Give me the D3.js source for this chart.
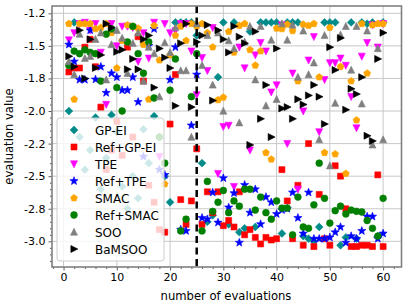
<!DOCTYPE html>
<html>
<head>
<meta charset="utf-8">
<script src="https://cdn.jsdelivr.net/npm/d3@7"></script>
<style>
  body { margin: 0; background: #fff; }
  text { font-family: "DejaVu Sans", sans-serif; fill: #000; }
</style>
</head>
<body>
<div id="chart"></div>
<script>
// evaluation index (x)
var evaluations = [1,2,3,4,5,6,7,8,9,10,11,12,13,14,15,16,17,18,19,20,
  21,22,23,24,25,26,27,28,29,30,31,32,33,34,35,36,37,38,39,40,
  41,42,43,44,45,46,47,48,49,50,51,52,53,54,55,56,57,58,59,60];

// values, one per evaluation
var gpEI = [-2.00,-1.32,-2.20,-2.45,-2.30,-2.05,-2.60,-2.36,-2.03,-2.16,
  -2.58,-2.75,-2.50,-2.67,-2.14,-2.40,-2.04,-2.20,-2.50,-2.70,
  -1.32,-1.32,-1.32,-1.32,-1.42,-2.40,-2.85,-2.80,-1.74,-1.32,
  -2.87,-1.32,-2.93,-2.90,-1.39,-2.89,-1.32,-1.32,-1.32,-1.32,
  -2.94,-1.32,-1.32,-1.32,-2.96,-2.98,-3.00,-2.89,-1.32,-1.32,
  -1.32,-3.03,-2.97,-1.32,-2.98,-1.32,-1.33,-1.32,-2.96,-1.32];
var refGpEI = [-1.70,-1.67,-1.67,-1.51,-1.45,-1.66,-1.97,-2.45,-2.30,-2.08,
  -2.34,-1.51,-2.20,-1.43,-1.77,-2.57,-2.70,-2.91,-2.93,-2.10,
  -1.72,-2.68,-2.87,-2.69,-2.29,-2.87,-2.62,-2.78,-2.62,-2.88,
  -2.84,-2.89,-2.62,-2.95,-2.91,-2.97,-3.02,-2.97,-2.99,-2.98,
  -2.45,-2.69,-2.98,-2.57,-3.03,-2.25,-3.04,-2.64,-2.98,-3.03,
  -2.42,-2.50,-2.75,-3.04,-3.04,-3.03,-3.03,-3.04,-2.49,-3.04];
var tpe = [-1.455,-1.40,-1.33,-1.32,-1.38,-1.33,-1.55,-1.95,-1.33,-1.50,
  -1.35,-1.35,-1.36,-1.62,-1.40,-1.595,-1.32,-2.35,-1.33,-1.40,
  -1.385,-1.33,-1.33,-1.54,-1.876,-1.59,-1.69,-1.36,-2.48,-2.12,
  -2.11,-2.58,-1.51,-1.67,-2.30,-1.57,-1.475,-1.54,-1.855,-1.80,
  -1.34,-2.25,-1.71,-2.60,-2.00,-1.61,-1.43,-2.16,-1.76,-1.63,
  -1.63,-1.595,-1.65,-1.89,-2.13,-1.58,-1.475,-1.34,-1.51,-1.33];
var refTpe = [-1.49,-1.62,-1.76,-1.76,-1.38,-1.757,-1.66,-1.86,-1.71,-1.74,
  -1.84,-1.84,-1.74,-1.93,-2.35,-1.50,-1.37,-2.45,-2.49,-1.76,
  -1.51,-2.91,-2.92,-2.11,-1.72,-2.82,-2.83,-2.625,-2.856,-2.515,
  -2.74,-2.63,-3.01,-2.567,-2.78,-2.60,-2.868,-2.66,-2.70,-2.79,
  -2.76,-2.75,-2.625,-2.82,-2.94,-2.625,-2.98,-2.98,-2.98,-2.97,
  -2.93,-2.89,-3.01,-2.96,-2.98,-2.92,-2.81,-2.81,-2.98,-2.94];
var smac = [-1.33,-1.91,-1.33,-1.33,-1.33,-1.37,-1.36,-1.33,-1.40,-1.67,
  -1.46,-1.34,-1.35,-1.365,-1.49,-1.91,-1.345,-1.61,-2.56,-1.57,
  -1.42,-1.35,-1.46,-1.33,-1.35,-1.33,-1.40,-1.51,-1.915,-1.895,
  -1.39,-1.55,-1.345,-1.33,-1.53,-1.65,-1.54,-2.32,-2.37,-1.365,
  -1.37,-1.335,-1.385,-1.77,-1.335,-1.345,-1.33,-1.74,-2.32,-1.36,
  -2.33,-1.66,-2.48,-1.77,-2.07,-1.33,-1.71,-1.34,-1.33,-1.33];
var refSmac = [-1.65,-1.54,-1.56,-1.53,-1.55,-1.56,-1.77,-1.41,-1.37,-1.82,
  -2.00,-1.47,-1.35,-1.56,-1.71,-1.47,-1.90,-2.20,-2.40,-1.84,
  -1.60,-2.92,-2.83,-1.89,-1.56,-2.92,-2.54,-2.77,-2.70,-2.61,
  -2.78,-2.69,-2.73,-2.60,-2.60,-2.76,-2.66,-2.78,-2.83,-2.69,
  -2.745,-2.745,-2.95,-2.66,-2.89,-2.90,-2.72,-2.40,-2.67,-2.86,
  -2.765,-2.73,-2.79,-2.76,-2.77,-2.775,-2.84,-2.90,-2.96,-2.67];
var soo = [-1.62,-1.72,-1.41,-1.595,-1.58,-1.45,-1.40,-1.76,-1.49,-1.38,
  -1.44,-1.71,-1.48,-1.40,-1.77,-1.51,-1.56,-1.89,-1.475,-1.55,
  -1.36,-1.69,-1.69,-2.20,-1.33,-1.65,-1.42,-1.80,-1.40,-2.00,
  -1.46,-1.52,-2.09,-1.47,-1.35,-1.76,-1.35,-1.96,-1.455,-1.91,
  -1.33,-1.455,-1.34,-1.74,-1.385,-1.72,-1.63,-2.22,-1.42,-2.42,
  -1.94,-1.416,-1.35,-1.685,-1.35,-1.945,-1.385,-2.26,-1.52,-2.22];
var bamsoo = [-1.58,-1.66,-1.38,-1.75,-1.45,-1.67,-1.57,-1.33,-1.36,-1.545,
  -1.53,-1.68,-1.60,-1.68,-1.45,-1.42,-1.82,-1.52,-1.59,-1.67,
  -1.96,-1.48,-1.33,-1.97,-1.47,-1.42,-1.34,-1.92,-1.38,-1.45,
  -1.55,-1.35,-1.43,-1.48,-2.26,-1.39,-2.06,-1.80,-2.20,-1.52,
  -1.98,-1.97,-2.06,-1.91,-1.95,-1.88,-1.80,-1.89,-2.10,-1.51,
  -1.685,-1.44,-1.99,-1.83,-1.87,-1.74,-2.19,-2.23,-1.60,-1.40];

var seriesNames = ['GP-EI', 'Ref+GP-EI', 'TPE', 'Ref+TPE', 'SMAC', 'Ref+SMAC', 'SOO', 'BaMSOO'];
var seriesValues = [gpEI, refGpEI, tpe, refTpe, smac, refSmac, soo, bamsoo];

// axis ticks and their printed labels
var xTicks = [0, 10, 20, 30, 40, 50, 60];
var yTicks = [-1.25, -1.5, -1.75, -2.0, -2.25, -2.5, -2.75, -3.0];
var yTickLabels = ['-1.2', '-1.5', '-1.8', '-2.0', '-2.2', '-2.5', '-2.8', '-3.0'];
var splitAt = 25;

// custom marker shapes, size = radius in px
function poly(points) {
  return { draw: function (ctx, r) {
    points.forEach(function (p, i) {
      if (i === 0) ctx.moveTo(p[0] * r, p[1] * r); else ctx.lineTo(p[0] * r, p[1] * r);
    });
    ctx.closePath();
  } };
}
function ngon(n, inner) {
  var pts = [];
  var k = inner ? n * 2 : n;
  for (var i = 0; i < k; i++) {
    var a = -Math.PI / 2 + i * 2 * Math.PI / k;
    var rr = (inner && i % 2 === 1) ? inner : 1;
    pts.push([rr * Math.cos(a), rr * Math.sin(a)]);
  }
  return poly(pts);
}
var circleType = { draw: function (ctx, r) { ctx.moveTo(r, 0); ctx.arc(0, 0, r, 0, 2 * Math.PI); } };

var styles = [
  { color: '#008b8b', type: poly([[0,-1],[1,0],[0,1],[-1,0]]), r: 3.9 },
  { color: '#ff0000', type: poly([[-1,-1],[1,-1],[1,1],[-1,1]]), r: 3.0 },
  { color: '#ff00ff', type: poly([[-1,-0.9],[1,-0.9],[0,1.1]]), r: 3.5 },
  { color: '#0000ff', type: ngon(5, 0.42), r: 4.3 },
  { color: '#ffa500', type: ngon(5), r: 3.6 },
  { color: '#008000', type: circleType, r: 3.4 },
  { color: '#808080', type: poly([[0,-1.1],[1,0.9],[-1,0.9]]), r: 3.5 },
  { color: '#000000', type: poly([[-0.9,-1],[1.1,0],[-0.9,1]]), r: 3.5 }
];

var W = 408, H = 308;
var plot = { left: 52, right: 401.5, top: 6, bottom: 267 };

var svg = d3.select('#chart').append('svg')
  .attr('width', W)
  .attr('height', H)
  .style('display', 'block');

svg.append('rect').attr('width', W).attr('height', H).attr('fill', '#fff');

var x = d3.scaleLinear().domain([-2.17, 63.45]).range([plot.left, plot.right]);
var y = d3.scaleLinear().domain([-3.197, -1.194]).range([plot.bottom, plot.top]);

// grid
var grid = svg.append('g');
grid.selectAll('.gx').data(xTicks).enter().append('line')
  .attr('x1', function (d) { return x(d); }).attr('x2', function (d) { return x(d); })
  .attr('y1', plot.top).attr('y2', plot.bottom)
  .attr('stroke', '#c8c8c8').attr('stroke-width', 1);
grid.selectAll('.gy').data(yTicks).enter().append('line')
  .attr('y1', function (d) { return y(d); }).attr('y2', function (d) { return y(d); })
  .attr('x1', plot.left).attr('x2', plot.right)
  .attr('stroke', '#c8c8c8').attr('stroke-width', 1);

// points, in legend order so later series sit on top
var pts = svg.append('g');
seriesValues.forEach(function (vals, s) {
  var st = styles[s];
  var sym = d3.symbol().type(st.type).size(st.r);
  pts.selectAll('.p' + s).data(vals).enter().append('path')
    .attr('transform', function (d, i) { return 'translate(' + x(evaluations[i]) + ',' + y(d) + ')'; })
    .attr('d', sym)
    .attr('fill', st.color)
    .attr('stroke', st.color)
    .attr('stroke-width', 0.6);
});

// split marker
svg.append('line')
  .attr('x1', x(splitAt)).attr('x2', x(splitAt))
  .attr('y1', plot.top).attr('y2', plot.bottom)
  .attr('stroke', '#000').attr('stroke-width', 2.5)
  .attr('stroke-dasharray', '7,4.5');

// axes
var xAxis = svg.append('g')
  .attr('transform', 'translate(0,' + plot.bottom + ')')
  .call(d3.axisBottom(x).tickValues(xTicks).tickSize(3.5).tickPadding(3).tickFormat(d3.format('d')));
var xMinor = svg.append('g')
  .attr('transform', 'translate(0,' + plot.bottom + ')')
  .call(d3.axisBottom(x).tickValues(d3.range(-2, 64, 2).filter(function (d) { return d % 10 !== 0; })).tickSize(2).tickFormat(''));
var yAxis = svg.append('g')
  .attr('transform', 'translate(' + plot.left + ',0)')
  .call(d3.axisLeft(y).tickValues(yTicks).tickSize(3.5).tickPadding(3)
    .tickFormat(function (d, i) { return yTickLabels[i]; }));
var yMinor = svg.append('g')
  .attr('transform', 'translate(' + plot.left + ',0)')
  .call(d3.axisLeft(y).tickValues(d3.range(-3.15, -1.2, 0.05).filter(function (d) {
    return Math.abs(d / 0.25 - Math.round(d / 0.25)) > 0.01; })).tickSize(2).tickFormat(''));

[xAxis, xMinor, yAxis, yMinor].forEach(function (g) {
  g.select('.domain').remove();
  g.selectAll('line').attr('stroke', '#333').attr('stroke-width', 0.8);
  g.selectAll('text').style('font-size', '11px').style('font-family', '"DejaVu Sans", sans-serif').attr('fill', '#000');
});

// frame
svg.append('rect')
  .attr('x', plot.left).attr('y', plot.top)
  .attr('width', plot.right - plot.left).attr('height', plot.bottom - plot.top)
  .attr('fill', 'none').attr('stroke', '#808080').attr('stroke-width', 1.6);

// axis titles
svg.append('text')
  .attr('x', 226).attr('y', 300)
  .attr('text-anchor', 'middle').style('font-size', '11.6px')
  .text('number of evaluations');
svg.append('text')
  .attr('transform', 'translate(13,' + (plot.top + plot.bottom) / 2 + ') rotate(-90)')
  .attr('text-anchor', 'middle').style('font-size', '11.6px')
  .text('evaluation value');

// legend
var legend = svg.append('g').attr('transform', 'translate(57,118)');
legend.append('rect')
  .attr('width', 107).attr('height', 143).attr('rx', 3)
  .attr('fill', '#fff').attr('fill-opacity', 0.8)
  .attr('stroke', '#cccccc').attr('stroke-width', 1);
seriesNames.forEach(function (name, s) {
  var st = styles[s];
  var row = legend.append('g').attr('transform', 'translate(0,' + (12 + s * 17) + ')');
  row.append('path')
    .attr('transform', 'translate(17,0)')
    .attr('d', d3.symbol().type(st.type).size(st.r))
    .attr('fill', st.color).attr('stroke', st.color).attr('stroke-width', 0.6);
  row.append('text')
    .attr('x', 38).attr('y', 4.5)
    .style('font-size', '12px')
    .text(name);
});
</script>
</body>
</html>
